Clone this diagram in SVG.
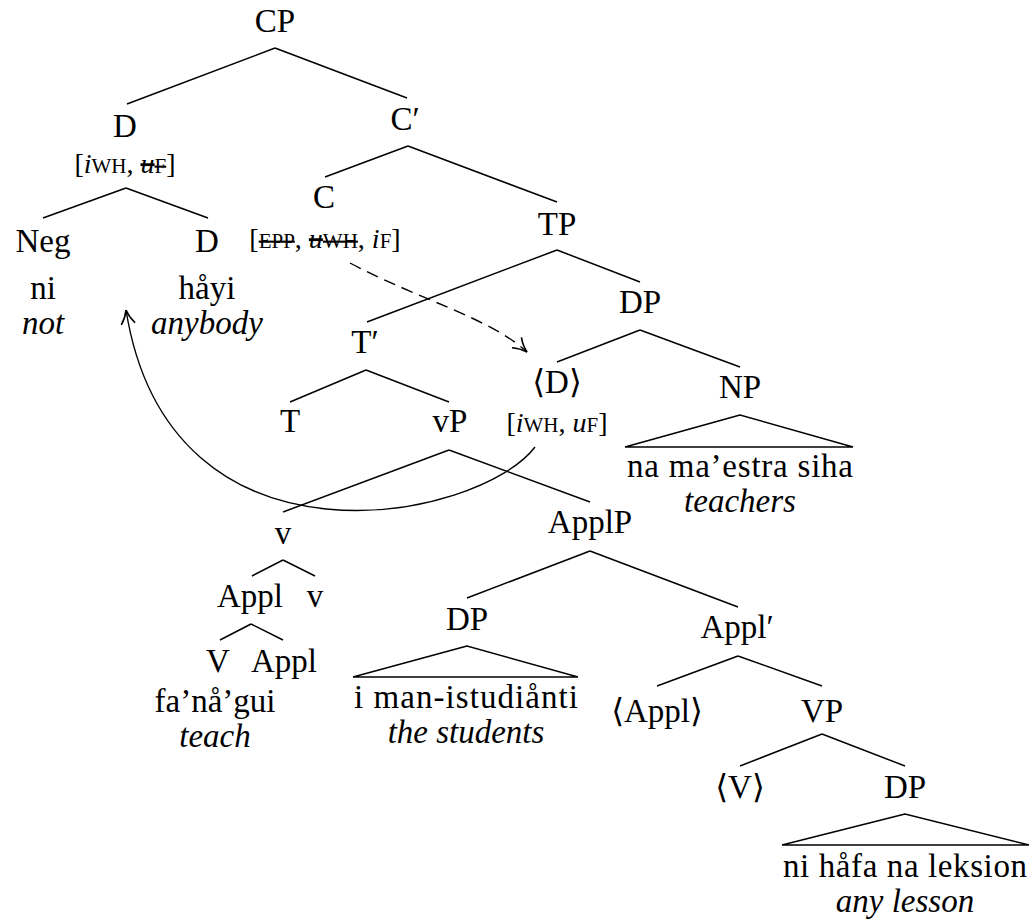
<svg xmlns="http://www.w3.org/2000/svg" width="1033" height="922" viewBox="0 0 1033 922">
<defs>
<style>
text{font-family:"Liberation Serif","DejaVu Serif",serif;fill:#000;text-anchor:middle}
.n{font-size:33px}
.g{font-size:33px;font-style:italic}
.f{font-size:28px}
.sc{font-size:21px}
.it{font-style:italic}
.st{text-decoration:line-through}
.e line,.e polygon{stroke:#000;stroke-width:1.5;fill:none}
.mv{fill:none;stroke:#000;stroke-width:1.4}
</style>
<marker id="ah" viewBox="-16 -9 18 18" refX="0" refY="0" markerWidth="18" markerHeight="18" markerUnits="userSpaceOnUse" orient="auto">
<path d="M-14,-7 C-9,-3 -4,-1 0,0 C-4,1 -9,3 -14,7" fill="none" stroke="#000" stroke-width="1.6"/>
</marker>
</defs>
<rect width="1033" height="922" fill="#fff"/>
<g id="edges" class="e">
<line x1="275" y1="48" x2="127" y2="104"/>
<line x1="275" y1="48" x2="407" y2="98"/>
<line x1="126" y1="188" x2="43" y2="218"/>
<line x1="126" y1="188" x2="208" y2="218"/>
<line x1="408" y1="146" x2="325" y2="177"/>
<line x1="408" y1="146" x2="557" y2="202"/>
<line x1="557" y1="250" x2="367" y2="322"/>
<line x1="557" y1="250" x2="640" y2="282"/>
<line x1="640" y1="330" x2="557" y2="362"/>
<line x1="640" y1="330" x2="740" y2="367"/>
<polygon points="740,415 625,447 853,447"/>
<line x1="366" y1="370" x2="290" y2="402"/>
<line x1="366" y1="370" x2="449" y2="402"/>
<line x1="449" y1="450" x2="283" y2="512"/>
<line x1="449" y1="450" x2="590" y2="502"/>
<line x1="283" y1="560" x2="252" y2="576"/>
<line x1="283" y1="560" x2="315" y2="576"/>
<line x1="251" y1="624" x2="220" y2="640"/>
<line x1="251" y1="624" x2="283" y2="640"/>
<line x1="590" y1="551" x2="467" y2="598"/>
<line x1="590" y1="551" x2="738" y2="607"/>
<polygon points="467,646 353,677 578,677"/>
<line x1="738" y1="656" x2="657" y2="686"/>
<line x1="738" y1="656" x2="822" y2="686"/>
<line x1="822" y1="734" x2="740" y2="766"/>
<line x1="822" y1="734" x2="905" y2="766"/>
<polygon points="905,814 782,845 1029,845"/>
</g>
<g id="movement">
<path class="mv" d="M350,263 C420,300 490,318 527,352" stroke-dasharray="12,7" marker-end="url(#ah)"/>
<path class="mv" d="M535,447 C480,520 170,585 126,310" marker-end="url(#ah)"/>
</g>
<g id="n-CP"><text class="n" x="275" y="32">CP</text></g>
<g id="n-D1"><text class="n" x="125" y="137">D</text>
<text class="f" x="125" y="173">[<tspan class="it">i</tspan><tspan class="sc">WH</tspan>, <tspan class="st"><tspan class="it">u</tspan><tspan class="sc">F</tspan></tspan>]</text></g>
<g id="n-Cbar"><text class="n" x="405" y="130">C′</text></g>
<g id="n-C"><text class="n" x="324" y="208">C</text>
<text class="f" x="325" y="248">[<tspan class="sc st">EPP</tspan>, <tspan class="st"><tspan class="it">u</tspan><tspan class="sc">WH</tspan></tspan>, <tspan class="it">i</tspan><tspan class="sc">F</tspan>]</text></g>
<g id="n-Neg"><text class="n" x="43" y="252">Neg</text><text class="n" x="43" y="299">ni</text><text class="g" x="43" y="334">not</text></g>
<g id="n-D2"><text class="n" x="207" y="252">D</text><text class="n" x="207" y="299">håyi</text><text class="g" x="207" y="334">anybody</text></g>
<g id="n-TP"><text class="n" x="557" y="235">TP</text></g>
<g id="n-DP1"><text class="n" x="640" y="313">DP</text></g>
<g id="n-Tbar"><text class="n" x="365" y="353">T′</text></g>
<g id="n-Dtrace"><text class="n" x="557" y="393">⟨D⟩</text>
<text class="f" x="557" y="432">[<tspan class="it">i</tspan><tspan class="sc">WH</tspan>, <tspan class="it">u</tspan><tspan class="sc">F</tspan>]</text></g>
<g id="n-NP"><text class="n" x="740" y="398">NP</text><text class="n" x="740" y="477" textLength="226">na ma’estra siha</text><text class="g" x="740" y="512">teachers</text></g>
<g id="n-T"><text class="n" x="290" y="432">T</text></g>
<g id="n-vP"><text class="n" x="450" y="432">vP</text></g>
<g id="n-v"><text class="n" x="283" y="544">v</text></g>
<g id="n-ApplP"><text class="n" x="590" y="533">ApplP</text></g>
<g id="n-Appl1"><text class="n" x="250" y="607">Appl</text></g>
<g id="n-v2"><text class="n" x="315" y="607">v</text></g>
<g id="n-V"><text class="n" x="218" y="672">V</text></g>
<g id="n-Appl2"><text class="n" x="284" y="672">Appl</text></g>
<g id="n-verb"><text class="n" x="215" y="712">fa’nå’gui</text><text class="g" x="215" y="747">teach</text></g>
<g id="n-DP2"><text class="n" x="467" y="630">DP</text><text class="n" x="466" y="708" textLength="224">i man-istudiånti</text><text class="g" x="466" y="743">the students</text></g>
<g id="n-Applbar"><text class="n" x="737" y="638">Appl′</text></g>
<g id="n-Appltrace"><text class="n" x="657" y="722">⟨Appl⟩</text></g>
<g id="n-VP"><text class="n" x="822" y="722">VP</text></g>
<g id="n-Vtrace"><text class="n" x="740" y="798">⟨V⟩</text></g>
<g id="n-DP3"><text class="n" x="905" y="798">DP</text><text class="n" x="905" y="877" textLength="244">ni håfa na leksion</text><text class="g" x="905" y="912">any lesson</text></g>
</svg>
